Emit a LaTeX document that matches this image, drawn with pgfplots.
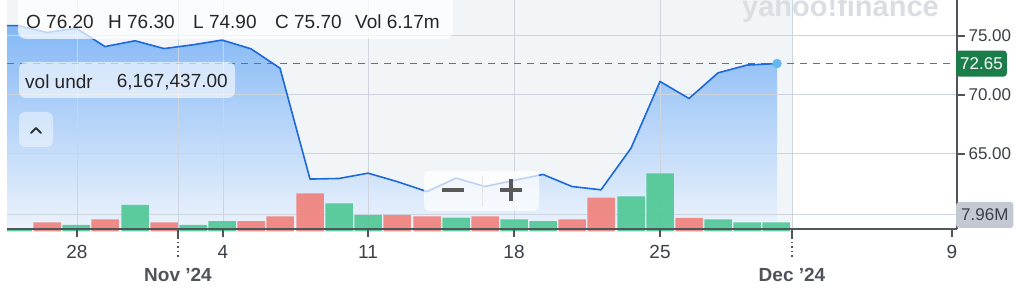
\documentclass[border=0pt]{standalone}
\usepackage{fontspec}
\setmainfont{Liberation Sans}
\usepackage{pgfplots}
\usepackage{pgfplotstable}
\pgfplotsset{compat=1.18}

\definecolor{bgpanel}{RGB}{242,245,248}
\definecolor{gridc}{RGB}{205,212,222}
\definecolor{fillTop}{RGB}{132,184,245}
\definecolor{fillBot}{RGB}{236,243,252}
\definecolor{lineblue}{RGB}{28,105,220}
\definecolor{barGreen}{RGB}{80,200,150}
\definecolor{barRed}{RGB}{240,130,125}
\definecolor{dashgreen}{RGB}{60,140,105}
\definecolor{priceBox}{RGB}{27,125,74}
\definecolor{volBox}{RGB}{196,200,210}
\definecolor{axisgray}{RGB}{80,85,92}
\definecolor{labgray}{RGB}{60,64,72}
\definecolor{dotblue}{RGB}{100,185,245}
\definecolor{wmark}{RGB}{218,221,226}

% x = position of each trading day on the chart, price = close
\pgfplotstableread{
x price
-11 75.87
18 75.87
47 75.28
76 75.65
105 74.09
135 74.58
164 73.92
193 74.24
222 74.64
251 73.90
280 72.26
310 62.86
339 62.91
368 63.36
397 62.65
427 61.80
456 62.94
485 62.23
514 62.75
543 63.25
572 62.23
601 61.95
631 65.48
660 71.13
689 69.69
718 71.86
747 72.52
777 72.65
}\pricedata

% volume in millions
\pgfplotstableread{
x vol
18 1.5
76 5.6
135 23.3
193 5.6
222 9.1
339 24.8
368 14.4
456 12.1
514 10.6
543 9.1
631 30.9
660 51.3
718 10.6
747 8.0
776 7.96
}\volgreen

\pgfplotstableread{
x vol
47 8.0
105 10.6
164 8.0
251 9.1
280 13.3
310 33.6
397 14.4
427 13.3
485 13.3
572 10.6
601 29.8
689 11.8
}\volred

\pgfplotsset{base/.style={at={(7,51)}, anchor=south west, width=950pt, height=229pt,
  scale only axis, xmin=7, xmax=957}}

\begin{document}
\begin{tikzpicture}[x=1pt,y=1pt]
\useasboundingbox (0,0) rectangle (1024,289);
\fill[white] (0,0) rectangle (1024,289);

% ---- background, area fill, grid
\begin{axis}[base, ymin=58.644, ymax=78.051, axis lines=none, clip=true]
\fill[bgpanel] (axis cs:7,58.644) rectangle (axis cs:792,78.051);
\addplot[draw=none, top color=fillTop, bottom color=fillBot]
  table[x=x,y=price]{\pricedata} |- (axis cs:-11,58.644) -- cycle;
\draw[gridc, line width=0.9pt] (axis cs:77,58.644) -- (axis cs:77,78.051);
\draw[gridc, line width=0.9pt] (axis cs:178,58.644) -- (axis cs:178,78.051);
\draw[gridc, line width=0.9pt] (axis cs:223,58.644) -- (axis cs:223,78.051);
\draw[gridc, line width=0.9pt] (axis cs:368,58.644) -- (axis cs:368,78.051);
\draw[gridc, line width=0.9pt] (axis cs:514,58.644) -- (axis cs:514,78.051);
\draw[gridc, line width=0.9pt] (axis cs:660,58.644) -- (axis cs:660,78.051);
\draw[gridc, line width=0.9pt] (axis cs:792,58.644) -- (axis cs:792,78.051);
\draw[gridc, line width=0.9pt] (axis cs:7,75) -- (axis cs:957,75);
\draw[gridc, line width=0.9pt] (axis cs:7,70) -- (axis cs:957,70);
\draw[gridc, line width=0.9pt] (axis cs:7,65) -- (axis cs:957,65);
\draw[gridc, line width=0.9pt] (axis cs:7,59.83) -- (axis cs:957,59.83);
\end{axis}

% ---- volume bars
\begin{axis}[base, ymin=0, ymax=202.5, axis lines=none, clip=true]
\addplot[ybar, bar width=27.5pt, bar shift=0pt, draw=none, fill=barGreen, fill opacity=0.92]
  table[x=x,y=vol]{\volgreen};
\addplot[ybar, bar width=27.5pt, bar shift=0pt, draw=none, fill=barRed, fill opacity=0.92]
  table[x=x,y=vol]{\volred};
\end{axis}

% ---- price line, axes, labels
\begin{axis}[base, ymin=58.644, ymax=78.051, clip mode=individual,
  axis x line*=bottom, axis y line*=right,
  axis line style={draw=axisgray, line width=1.4pt, -},
  xtick={77,178,223,368,514,660,792,952},
  xticklabels={28,,4,11,18,25,,9},
  ytick={65,70,75}, yticklabels={65.00,70.00,75.00},
  tick align=outside, major tick length=8pt,
  tick style={draw=axisgray, line width=1.4pt},
  xticklabel style={font=\fontsize{19}{19}\selectfont, text=labgray, yshift=-5pt},
  yticklabel style={font=\fontsize{17}{17}\selectfont, text=labgray, anchor=west, xshift=0pt},
]
\addplot[dashgreen, line width=1.6pt, dash pattern=on 7pt off 6pt] coordinates {(7,72.65) (957,72.65)};
\addplot[lineblue, line width=1.6pt, line join=round] table[x=x,y=price]{\pricedata};
\addplot[only marks, mark=*, mark size=4.5pt, color=dotblue] coordinates {(777,72.65)};
\node[fill=priceBox, text=white, rounded corners=3pt, anchor=west, minimum height=26pt,
  inner xsep=4pt, font=\fontsize{17}{17}\selectfont] at (axis cs:956,72.65) {72.65};
\end{axis}

% right volume label
\node[fill=volBox, text=labgray, rounded corners=3pt, anchor=west, minimum height=26pt,
  inner xsep=5pt, font=\fontsize{17}{17}\selectfont] at (956,74) {7.96M};

% month boundary dotted extensions and labels
\draw[axisgray, line width=1.2pt, dash pattern=on 1.5pt off 3pt] (178,52) -- (178,32);
\draw[axisgray, line width=1.2pt, dash pattern=on 1.5pt off 3pt] (792,52) -- (792,32);
\node[font=\bfseries\fontsize{19}{19}\selectfont, text=labgray!90] at (178,14) {Nov '24};
\node[font=\bfseries\fontsize{19}{19}\selectfont, text=labgray!90] at (792,14) {Dec '24};

% watermark
\begin{scope}
\clip (0,0) rectangle (1024,289);
\node[anchor=base west, inner sep=0pt, font=\bfseries\fontsize{29}{29}\selectfont, text=wmark] at (742,272) {yahoo!finance};
\end{scope}

% info boxes
\fill[white, opacity=0.72, rounded corners=8pt] (18,250) rectangle (453,300);
\begin{scope}[font=\fontsize{19}{19}\selectfont, text=black!85]
\node[anchor=west, inner sep=0pt] at (26,267) {O 76.20};
\node[anchor=west, inner sep=0pt] at (108,267) {H 76.30};
\node[anchor=west, inner sep=0pt] at (193,267) {L 74.90};
\node[anchor=west, inner sep=0pt] at (275,267) {C 75.70};
\node[anchor=west, inner sep=0pt] at (355,267) {Vol 6.17m};
\end{scope}
\fill[white, opacity=0.6, rounded corners=7pt] (19,227) rectangle (235,191);
\node[anchor=west, inner sep=0pt, font=\fontsize{19}{19}\selectfont, text=black!85] at (25,207) {vol undr};
\node[anchor=east, inner sep=0pt, font=\fontsize{19}{19}\selectfont, text=black!85] at (228,207) {6,167,437.00};
\fill[white, opacity=0.45, rounded corners=6pt] (19,177) rectangle (53,142);
\draw[black!80, line width=1.8pt, line cap=round, line join=round] (31,156) -- (36,161) -- (41,156);

% zoom control
\fill[white, opacity=0.7, rounded corners=6pt] (424,118) rectangle (539,78);
\draw[black!10, line width=1pt] (482,113) -- (482,83);
\draw[black!65, line width=4pt] (442,99) -- (464,99);
\draw[black!65, line width=4pt] (500,99) -- (522,99);
\draw[black!65, line width=4pt] (511,110) -- (511,88);
\end{tikzpicture}
\end{document}
